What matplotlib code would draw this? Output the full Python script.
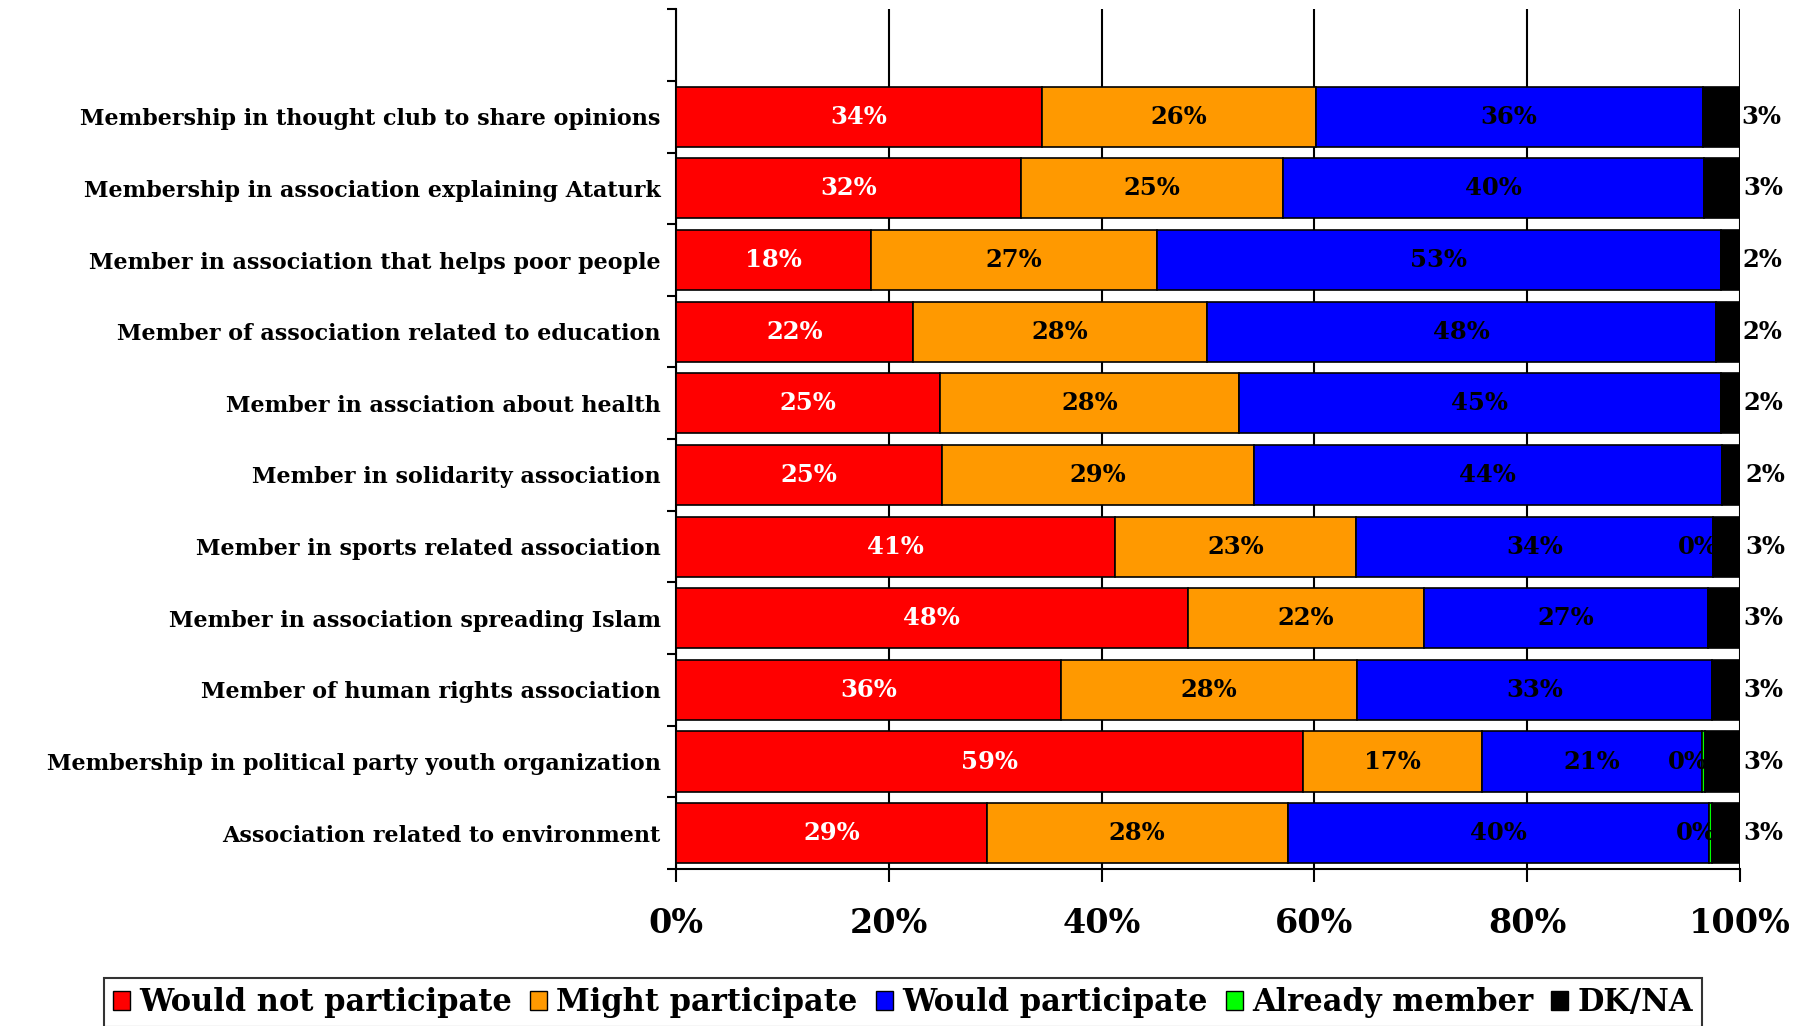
import numpy as np
import matplotlib.pyplot as plt
from matplotlib.patches import Patch

categories = ['Membership in thought club to share opinions',
              'Membership in association explaining Ataturk',
              'Member in association that helps poor people',
              'Member of association related to education',
              'Member in assciation about health',
              'Member in solidarity association',
              'Member in sports related association',
              'Member in association spreading Islam',
              'Member of human rights association',
              'Membership in political party youth organization',
              'Association related to environment']

would_not = [34.4, 32.4, 18.3, 22.3, 24.8, 25.0, 41.3, 48.1, 36.2, 58.9, 29.2]
might = [25.7, 24.6, 26.9, 27.6, 28.1, 29.3, 22.6, 22.2, 27.8, 16.8, 28.3]
would = [36.4, 39.6, 53.0, 47.8, 45.3, 44.0, 33.6, 26.7, 33.4, 20.7, 39.6]
already = [0.0, 0.0, 0.0, 0.0, 0.0, 0.0, 0.0, 0.0, 0.0, 0.3, 0.3]
dkna = [3.4, 3.4, 1.8, 2.3, 1.9, 1.9, 2.7, 3.0, 2.6, 3.3, 2.6]

# which rows show a label for "already member"
already_labelled = [False, False, False, False, False, False, True, False, False, True, True]

series = [('Would not participate', would_not, '#FF0000', 'white'),
          ('Might participate', might, '#FF9900', 'black'),
          ('Would participate', would, '#0000FF', 'black'),
          ('Already member', already, '#00FF00', 'black'),
          ('DK/NA', dkna, '#000000', 'black')]

serif = 'DejaVu Serif'
lab_size = 17.5

fig = plt.figure(figsize=(18.09, 10.26), dpi=100)
ax = fig.add_axes([0.3737, 0.153, 0.9619 - 0.3737, 0.991 - 0.153])

n = len(categories)
y = np.arange(n)[::-1]  # first category on top
left = np.zeros(n)

for name, vals, col, tcol in series:
    vals = np.array(vals)
    z = 4.5 if name == 'DK/NA' else 3
    ax.barh(y, vals, left=left, height=0.84, color=col, edgecolor='black',
            linewidth=1.2, zorder=z, label=name)
    for i in range(n):
        v = vals[i]
        cx = left[i] + v / 2
        if name == 'Already member':
            if already_labelled[i]:
                ax.annotate('%d%%' % round(v), (cx, y[i]), xytext=(-11, 0),
                            textcoords='offset points', ha='center', va='center',
                            fontsize=lab_size, fontweight='bold', family=serif,
                            color=tcol, zorder=4)
        elif name == 'DK/NA':
            ax.annotate('%d%%' % round(v), (left[i] + v, y[i]), xytext=(2, 0),
                        textcoords='offset points', ha='left', va='center',
                        fontsize=lab_size, fontweight='bold', family=serif,
                        color=tcol, zorder=5, annotation_clip=False)
        else:
            ax.text(cx, y[i], '%d%%' % round(v), ha='center', va='center',
                    fontsize=lab_size, fontweight='bold', family=serif,
                    color=tcol, zorder=5)
    left = left + vals

ax.set_xlim(0, 100)
ax.set_ylim(-0.5, n + 0.5)

ax.set_xticks(np.arange(0, 101, 20))
ax.set_xticklabels(['%d%%' % t for t in range(0, 101, 20)],
                   fontsize=24, fontweight='bold', family=serif)
ax.tick_params(axis='x', length=9, width=1.5, pad=18, direction='out')
ax.xaxis.grid(True, color='black', linewidth=1.5, zorder=0)
ax.set_axisbelow(True)

ax.set_yticks(np.arange(-0.5, n + 0.6, 1))
ax.set_yticklabels([])
ax.set_yticks(y, minor=True)
ax.set_yticklabels(categories, minor=True, fontsize=16, fontweight='bold',
                   family=serif)
ax.tick_params(axis='y', which='major', length=6.5, width=1.5)
ax.tick_params(axis='y', which='minor', length=0, pad=11)

for s in ['top', 'right']:
    ax.spines[s].set_visible(False)
ax.spines['left'].set_linewidth(1.5)
ax.spines['bottom'].set_linewidth(1.5)

handles = [Patch(facecolor=c, edgecolor='black', linewidth=1) for _, _, c, _ in series]
leg = fig.legend(handles, [s[0] for s in series], loc='upper left',
                 bbox_to_anchor=(104 / 1809, 1 - 978 / 1026), borderaxespad=0,
                 ncol=5, prop={'family': serif, 'weight': 'bold', 'size': 22},
                 handlelength=0.55, handleheight=0.55, handletextpad=0.3,
                 columnspacing=0.6, borderpad=0.3, fancybox=False,
                 frameon=True, edgecolor='black')
leg.get_frame().set_linewidth(1.5)

fig.savefig('out.png', dpi=100)
